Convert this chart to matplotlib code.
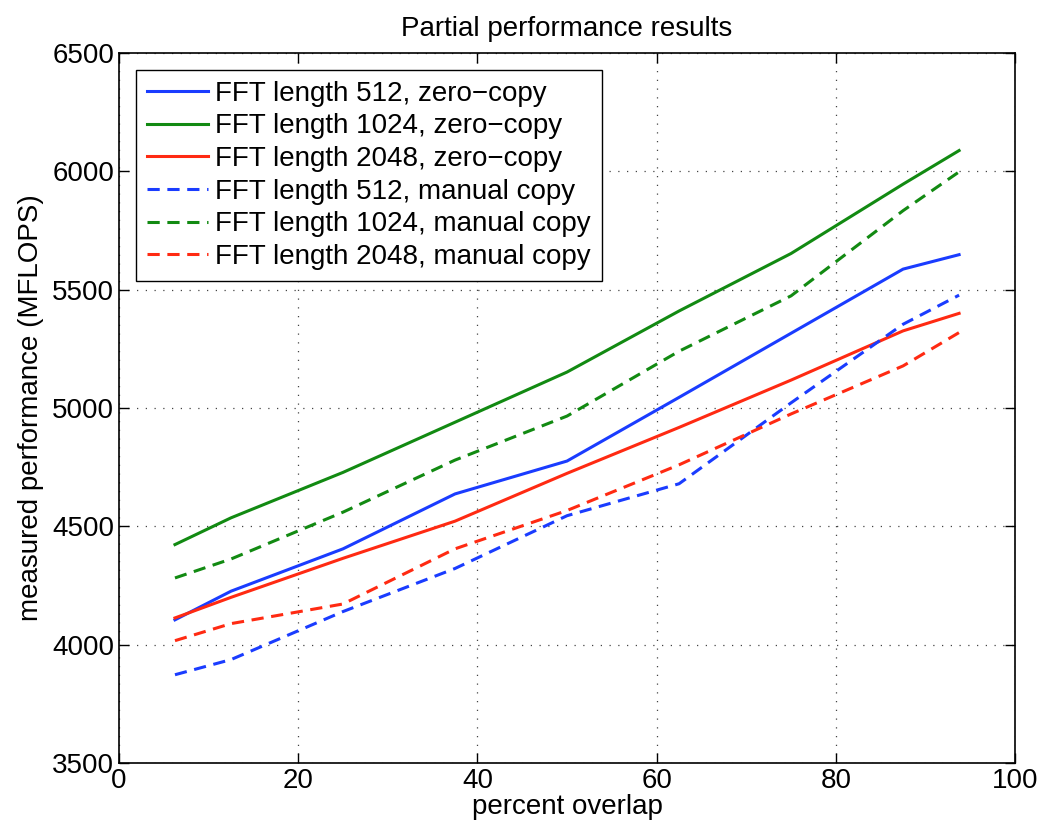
import matplotlib.pyplot as plt
import numpy as np

plt.rcParams['font.family'] = ['Liberation Sans', 'DejaVu Sans']

overlap = [6.25, 12.5, 25, 37.5, 50, 62.5, 75, 87.5, 93.75]

zc_512 = [4105, 4226, 4405, 4637, 4776, 5045, 5316, 5587, 5648]
zc_1024 = [4423, 4536, 4728, 4940, 5152, 5410, 5653, 5946, 6088]
zc_2048 = [4113, 4200, 4365, 4522, 4724, 4918, 5118, 5326, 5400]
mc_512 = [3873, 3937, 4140, 4322, 4545, 4680, 5022, 5354, 5477]
mc_1024 = [4282, 4362, 4560, 4780, 4966, 5240, 5474, 5834, 5998]
mc_2048 = [4017, 4089, 4172, 4405, 4567, 4760, 4975, 5178, 5319]

labels = ['FFT length 512, zero\u2212copy', 'FFT length 1024, zero\u2212copy',
          'FFT length 2048, zero\u2212copy', 'FFT length 512, manual copy',
          'FFT length 1024, manual copy', 'FFT length 2048, manual copy']

blue = '#1a3cff'
green = '#128a12'
red = '#ff2a12'

fig = plt.figure(figsize=(10.39, 8.30), dpi=100)
ax = fig.add_axes([0.1145, 0.0807, 0.8625, 0.8554])

lw = 2.2
ax.plot(overlap, zc_512, color=blue, lw=lw, label=labels[0])
ax.plot(overlap, zc_1024, color=green, lw=lw, label=labels[1])
ax.plot(overlap, zc_2048, color=red, lw=lw, label=labels[2])
ax.plot(overlap, mc_512, color=blue, lw=lw, ls=(0, (4, 2.5)), label=labels[3])
ax.plot(overlap, mc_1024, color=green, lw=lw, ls=(0, (4, 2.5)), label=labels[4])
ax.plot(overlap, mc_2048, color=red, lw=lw, ls=(0, (4, 2.5)), label=labels[5])

ax.set_xlim(0, 100)
ax.set_ylim(3500, 6500)
ax.set_xticks(np.arange(0, 101, 20))
ax.set_yticks(np.arange(3500, 6501, 500))
ax.grid(True, color='#444444', ls=(0, (1, 6)), lw=0.9)
ax.tick_params(direction='in', top=True, right=True, labelsize=20, length=7, width=1)
for s in ax.spines.values():
    s.set_linewidth(1.2)

ax.set_title('Partial performance results', fontsize=20, pad=12)
ax.set_xlabel('percent overlap', fontsize=20, labelpad=0)
ax.set_ylabel('measured performance (MFLOPS)', fontsize=20, labelpad=6)

leg = ax.legend(loc='upper left', fontsize=20, fancybox=False, framealpha=1,
                edgecolor='black', handlelength=2.2, borderaxespad=0.6,
                labelspacing=0.24, borderpad=0.4, handletextpad=0.25)
leg.get_frame().set_linewidth(1.0)

fig.savefig('out.png', dpi=100)
